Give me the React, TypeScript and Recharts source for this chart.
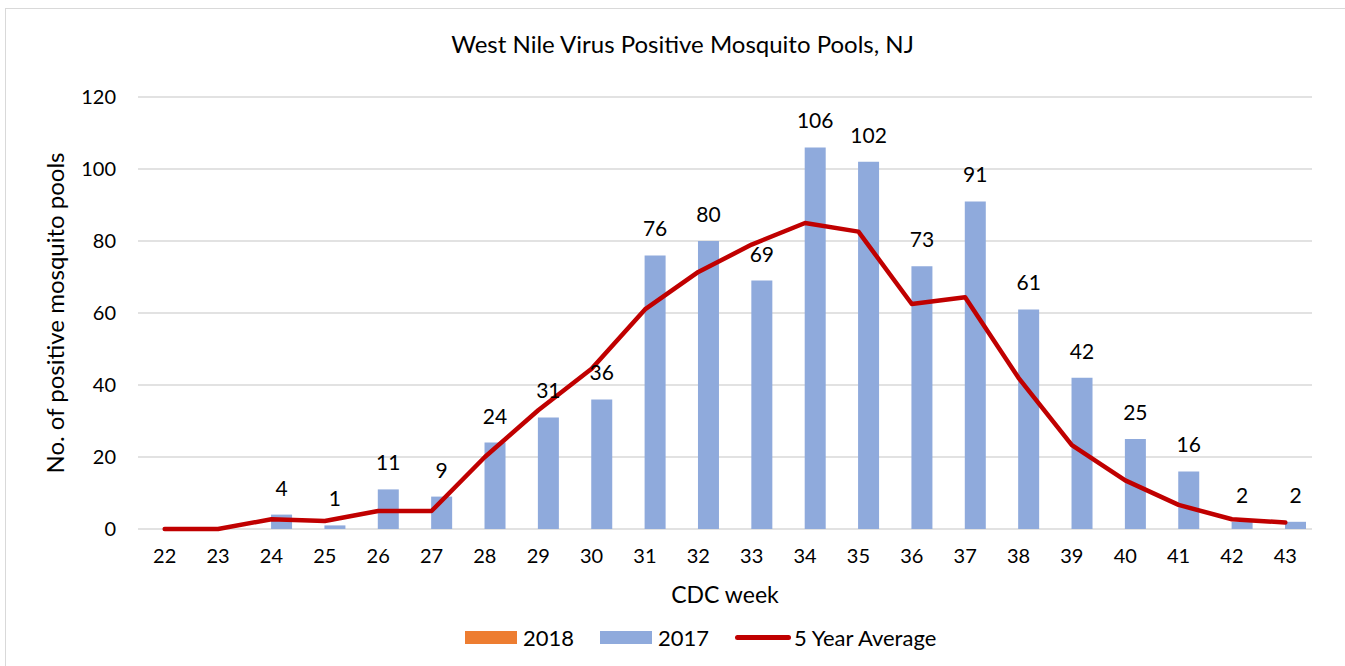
import React from 'react';
import {
  ComposedChart,
  Bar,
  Line,
  XAxis,
  YAxis,
  CartesianGrid,
  Legend,
  LabelList,
} from 'recharts';

// CDC weeks on the x axis
const weeks = [22, 23, 24, 25, 26, 27, 28, 29, 30, 31, 32, 33, 34, 35, 36, 37, 38, 39, 40, 41, 42, 43];
// 2018 season (no positives yet)
const pools2018 = [0, 0, 0, 0, 0, 0, 0, 0, 0, 0, 0, 0, 0, 0, 0, 0, 0, 0, 0, 0, 0, 0];
// 2017 season
const pools2017 = [0, 0, 4, 1, 11, 9, 24, 31, 36, 76, 80, 69, 106, 102, 73, 91, 61, 42, 25, 16, 2, 2];
// 5 year average
const fiveYearAvg = [0, 0, 2.7, 2.2, 5, 5, 20, 33, 44.5, 61, 71.4, 79, 85, 82.6, 62.5, 64.4, 42, 23.3, 13.5, 6.7, 2.7, 1.8];
const yTicks = [0, 20, 40, 60, 80, 100, 120];
const legendOrder = ['2018', '2017', '5 Year Average'];

const data = weeks.map((w, i) => ({
  week: w,
  y2018: pools2018[i],
  y2017: pools2017[i],
  avg: fiveYearAvg[i],
}));

const FONT = 'Lato, "Open Sans", sans-serif';
const W = 1345;
const H = 666;

const LegendContent = (props: any) => {
  const payload = [...(props.payload || [])].sort(
    (a: any, b: any) => legendOrder.indexOf(a.value) - legendOrder.indexOf(b.value)
  );
  return (
    <div
      style={{
        display: 'flex',
        alignItems: 'center',
        paddingLeft: 465,
        height: 57,
        boxSizing: 'border-box',
        fontFamily: FONT,
        fontSize: 22,
        color: '#000',
      }}
    >
      {payload.map((p: any) => (
        <div key={p.value} style={{ display: 'flex', alignItems: 'center', marginRight: 26 }}>
          {p.type === 'line' ? (
            <div style={{ width: 56, height: 5, background: p.color, borderRadius: 3, marginRight: 3 }} />
          ) : (
            <div style={{ width: 52, height: 13, background: p.color, marginRight: 6 }} />
          )}
          <span>{p.value}</span>
        </div>
      ))}
    </div>
  );
};

export default function App() {
  return (
    <div style={{ position: 'absolute', left: 0, top: 0, width: W, height: H, background: '#fff', overflow: 'hidden' }}>
      <div
        style={{
          position: 'absolute',
          left: 5,
          top: 8,
          width: W,
          height: H + 20,
          border: '1px solid #d9d9d9',
          boxSizing: 'border-box',
        }}
      />
      <div
        style={{
          position: 'absolute',
          left: 0,
          top: 29,
          width: W + 20,
          textAlign: 'center',
          fontFamily: FONT,
          fontSize: 24,
          color: '#000',
        }}
      >
        West Nile Virus Positive Mosquito Pools, NJ
      </div>
      <div style={{ position: 'absolute', left: 0, top: 0 }}>
        <ComposedChart
          width={W}
          height={H}
          data={data}
          margin={{ top: 97, right: 33, left: 38, bottom: 0 }}
          barCategoryGap="10%"
          barGap={0}
        >
          <CartesianGrid vertical={false} stroke="#d9d9d9" strokeWidth={1.3} />
          <XAxis
            dataKey="week"
            type="category"
            height={80}
            tickLine={false}
            tickSize={0}
            tickMargin={20}
            axisLine={false}
            tick={{ fill: '#000', fontSize: 20, fontFamily: FONT }}
            interval={0}
            label={{
              value: 'CDC week',
              position: 'insideBottom',
              offset: 6,
              style: { fill: '#000', fontSize: 23, fontFamily: FONT },
            }}
          />
          <YAxis
            width={100}
            domain={[0, 120]}
            ticks={yTicks}
            axisLine={false}
            tickLine={false}
            tickSize={0}
            tickMargin={22}
            tick={{ fill: '#000', fontSize: 20, fontFamily: FONT }}
            label={{
              value: 'No. of positive mosquito pools',
              angle: -90,
              position: 'insideLeft',
              offset: 17,
              style: { fill: '#000', fontSize: 24, fontFamily: FONT, textAnchor: 'middle' },
            }}
          />
          <Legend verticalAlign="bottom" wrapperStyle={{ left: 0, width: W }} content={LegendContent} />
          <Bar dataKey="y2018" name="2018" fill="#ED7D31" isAnimationActive={false} legendType="rect" />
          <Bar dataKey="y2017" name="2017" fill="#8FAADC" isAnimationActive={false} legendType="rect">
            <LabelList
              dataKey="y2017"
              position="top"
              offset={19}
              formatter={(v: any) => (v === 0 ? '' : v)}
              style={{ fill: '#000', fontSize: 21, fontFamily: FONT }}
            />
          </Bar>
          <Line
            dataKey="avg"
            name="5 Year Average"
            type="linear"
            stroke="#C00000"
            strokeWidth={4.5}
            strokeLinecap="round"
            strokeLinejoin="round"
            dot={false}
            activeDot={false}
            legendType="line"
            isAnimationActive={false}
          />
        </ComposedChart>
      </div>
    </div>
  );
}
